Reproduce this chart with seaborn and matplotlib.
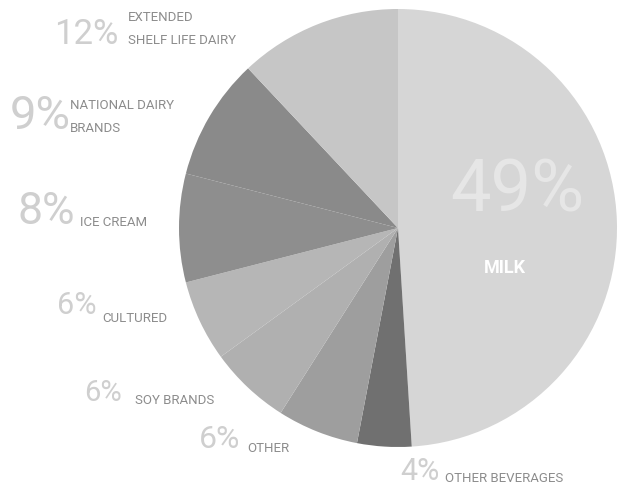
import matplotlib
matplotlib.use("Agg")
import matplotlib.pyplot as plt
import seaborn as sns

sns.set_theme(style="white")

# ---- data ----
categories = ["MILK", "OTHER BEVERAGES", "OTHER", "SOY BRANDS", "CULTURED",
              "ICE CREAM", "NATIONAL DAIRY\nBRANDS", "EXTENDED\nSHELF LIFE DAIRY"]
values = [49, 4, 6, 6, 6, 8, 9, 12]
pct_labels = ["49%", "4%", "6%", "6%", "6%", "8%", "9%", "12%"]
slice_colors = ["#d6d6d6", "#707070", "#9e9e9e", "#b0b0b0", "#b6b6b6",
                "#8e8e8e", "#8a8a8a", "#c6c6c6"]

plt.rcParams['font.family'] = ['Roboto', 'DejaVu Sans']

W, H = 620, 492
fig = plt.figure(figsize=(W / 100, H / 100), dpi=100)
cx, cy, r = 398, 228, 219
ax = fig.add_axes([(cx - r) / W, 1 - (cy + r) / H, 2 * r / W, 2 * r / H])
ax.pie(values, colors=slice_colors, startangle=90, counterclock=False,
       radius=1, wedgeprops=dict(linewidth=0))
ax.set_xlim(-1, 1)
ax.set_ylim(-1, 1)
ax.set_aspect("equal")
ax.axis("off")


def ptxt(x, y, s, size, color, **kw):
    fig.text(x / W, 1 - y / H, s, fontsize=size, color=color, va="center", **kw)


big_c = "#cfcfcf"
small_c = "#8c8c8c"
# label layout: (pct x, pct y, pct size, label x, label y)
layout = {
    7: (54, 34, 25, 128, 29),
    6: (10, 116, 34, 70, 117),
    5: (18, 212, 32, 80, 222),
    4: (57, 306, 22, 102, 318),
    3: (84, 393, 21, 135, 400),
    2: (199, 440, 23, 247, 448),
    1: (400, 472, 22, 445, 478),
}
for i, (px, py, ps, lx, ly) in layout.items():
    ptxt(px, py, pct_labels[i], ps, big_c)
    ptxt(lx, ly, categories[i], 9.5, small_c, linespacing=2.0)

# milk label inside slice
ptxt(450, 192, pct_labels[0], 52, "#e6e6e6")
fig.text(505 / W, 1 - 268 / H, categories[0], fontsize=13, color="white",
         weight="bold", ha="center", va="center")

fig.savefig("out.png", dpi=100, facecolor="white")
